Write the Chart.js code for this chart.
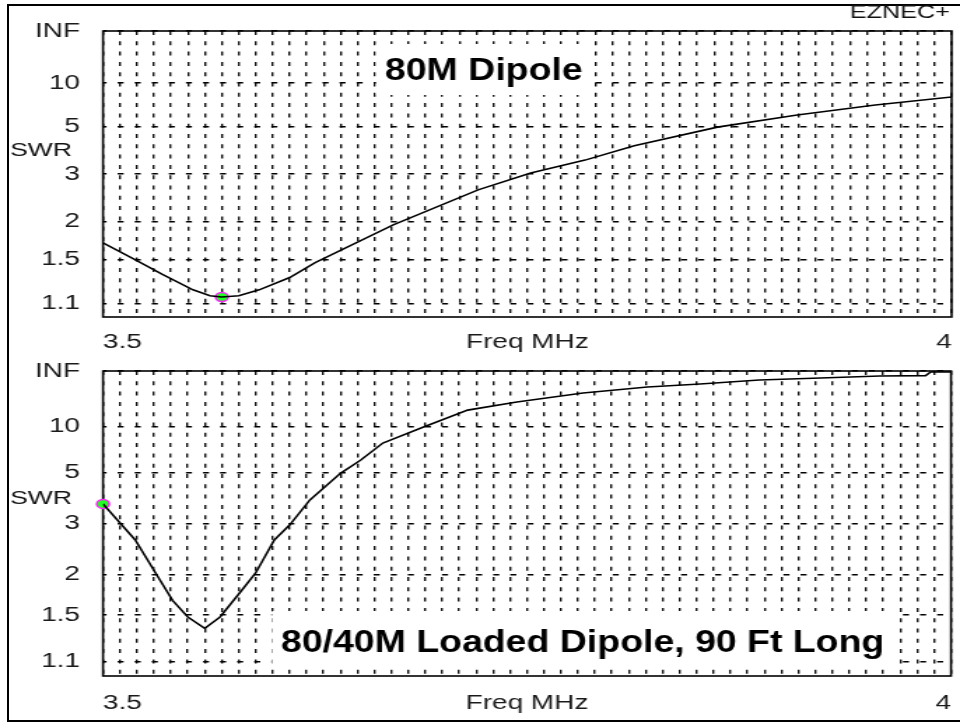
<!DOCTYPE html>
<html>
<head>
<meta charset="utf-8">
<script src="https://cdn.jsdelivr.net/npm/chart.js@4.4.1/dist/chart.umd.min.js"></script>
<style>
  html, body { margin: 0; padding: 0; background: #fff; }
  #page { position: relative; width: 960px; height: 723px; overflow: hidden; }
  #frame { position: absolute; left: 7px; top: 4px; width: 970px; height: 718px; border: 2px solid #000; box-sizing: border-box; }
  canvas { position: absolute; left: 0; }
</style>
</head>
<body>
<div id="page">
  <div id="frame"></div>
  <canvas id="topChart" width="686" height="360" style="top:0;width:960px;height:360px"></canvas>
  <canvas id="botChart" width="686" height="363" style="top:360px;width:960px;height:363px"></canvas>
</div>
<script>
// Change Label & Data Set Here
var topFreq = [3.500, 3.518, 3.535, 3.553, 3.563, 3.570, 3.580, 3.592, 3.610, 3.625, 3.671, 3.721, 3.752, 3.784, 3.813, 3.862, 3.909, 3.955, 4.000];
var topSwr  = [1.70, 1.51, 1.35, 1.21, 1.16, 1.15, 1.16, 1.21, 1.32, 1.47, 1.95, 2.60, 3.03, 3.43, 3.98, 4.95, 5.81, 6.73, 7.67];

var botFreq = [3.500, 3.519, 3.531, 3.541, 3.550, 3.560, 3.569, 3.581, 3.590, 3.601, 3.610, 3.622, 3.640, 3.652, 3.665, 3.689, 3.715, 3.744, 3.783, 3.821, 3.852, 3.887, 3.923, 3.958, 3.985, 3.988, 4.000];
var botSwr  = [3.59, 2.61, 2.02, 1.66, 1.48, 1.37, 1.48, 1.76, 2.02, 2.61, 2.96, 3.73, 4.96, 5.85, 7.47, 9.9, 14.6, 18.7, 26.7, 37, 46, 67, 86, 121, 132, 600, 600];

// marker points (freq, swr)
var topMarker = [3.570, 1.15];
var botMarker = [3.500, 3.59];

// y ticks are SWR values, x tick labels only at a few frequencies
var swrTicks = [1.1, 1.5, 2, 3, 5, 10, Infinity];
var swrTickLabels = ['1.1', '1.5', '2', '3', '5', '10', 'INF'];
var freqLabelAt = [3.5, 3.75, 4.0];
var freqLabelText = ['3.5', 'Freq MHz', '4'];

// the picture is stretched sideways, so the canvas is too
const S = 960 / 686;
const NOTE_STRETCH = 1.17;
const FONT = '"Liberation Sans", Arial, sans-serif';

/**
 * SWR -> reflection coefficient (EZNEC plots SWR on a rho scale)
 * @param {Number} swr
 * @returns rho
 */
function toRho(swr) {
    if (!isFinite(swr)) return 1;
    return (swr - 1) / (swr + 1);
}

/**
 * Frame, note box, SWR / EZNEC+ labels
 */
const panelDecor = {
    id: 'panelDecor',
    beforeDatasetsDraw(chart, args, opts) {
        const { ctx, chartArea } = chart;
        const { left, top, right, bottom } = chartArea;
        ctx.save();
        ctx.setLineDash([]);
        ctx.strokeStyle = '#000';
        ctx.lineWidth = 1.6;
        ctx.strokeRect(left, top, right - left, bottom - top);

        const n = opts.note;
        ctx.fillStyle = '#fff';
        ctx.fillRect(n.box[0] / S, n.box[1], (n.box[2] - n.box[0]) / S, n.box[3] - n.box[1]);
        ctx.translate(n.x / S, n.y);
        ctx.scale(NOTE_STRETCH / S, 1);
        ctx.fillStyle = '#000';
        ctx.font = 'bold 32px ' + FONT;
        ctx.textBaseline = 'alphabetic';
        ctx.textAlign = 'left';
        ctx.fillText(n.text, 0, 0);
        ctx.restore();
    },
    afterDraw(chart, args, opts) {
        const ctx = chart.ctx;
        ctx.save();
        ctx.fillStyle = '#111';
        ctx.textBaseline = 'middle';
        ctx.textAlign = 'left';
        ctx.font = '19px ' + FONT;
        ctx.fillText('SWR', 10 / S, opts.swrY);
        if (opts.corner) {
            ctx.textAlign = 'right';
            ctx.font = '18px ' + FONT;
            ctx.fillText(opts.corner, 950 / S, 13);
        }
        ctx.restore();
    }
};

/**
 * To Data Configuration
 */
function config(freq, swr, marker, p) {
    return {
        type: 'line',
        data: {
            datasets: [{
                data: freq.map((f, i) => ({ x: f, y: toRho(swr[i]) })),
                borderColor: '#000',
                borderWidth: 1.6,
                tension: 0,
                pointRadius: 0,
                fill: false,
            }, {
                data: [{ x: marker[0], y: toRho(marker[1]) }],
                showLine: false,
                pointRadius: 4.5,
                pointBackgroundColor: '#22ff22',
                pointBorderColor: '#ff22ff',
                pointBorderWidth: 1.5,
                clip: false,
            }]
        },
        options: {
            responsive: false,
            animation: false,
            layout: {
                padding: { top: p.padTop, right: p.padRight, left: 0, bottom: 0 }
            },
            plugins: {
                legend: { display: false },
                tooltip: { enabled: false },
                panelDecor: { note: p.note, swrY: p.swrY, corner: p.corner },
            },
            scales: {
                x: {
                    type: 'linear',
                    min: 3.5,
                    max: 4.0,
                    afterFit: (scale) => {
                        scale.height = p.xHeight;
                        scale.paddingLeft = 0;
                        scale.paddingRight = 0;
                    },
                    ticks: {
                        stepSize: 0.01,
                        autoSkip: false,
                        maxRotation: 0,
                        minRotation: 0,
                        align: 'inner',
                        padding: p.xPad,
                        color: '#1a1a1a',
                        font: { family: FONT, size: 20 },
                        callback: (value) => {
                            const k = freqLabelAt.findIndex(v => Math.abs(v - value) < 1e-6);
                            return k < 0 ? '' : freqLabelText[k];
                        }
                    },
                    grid: {
                        color: '#111',
                        lineWidth: 1.4,
                        drawTicks: false,
                    },
                    border: { display: false, dash: [4, 6.3] }
                },
                y: {
                    type: 'linear',
                    min: 0,
                    max: 1,
                    afterFit: (scale) => {
                        scale.width = 103 / S;
                        scale.paddingTop = 0;
                        scale.paddingBottom = 0;
                    },
                    afterBuildTicks: (scale) => {
                        scale.ticks = swrTicks.map(v => ({ value: toRho(v) }));
                    },
                    ticks: {
                        padding: 16.4,
                        color: '#1a1a1a',
                        font: { family: FONT, size: 20 },
                        callback: (value, index) => swrTickLabels[index]
                    },
                    grid: {
                        color: '#000',
                        lineWidth: 1.6,
                        drawTicks: false,
                    },
                    border: { display: false, dash: [4.3, 7.9], dashOffset: 2.15 }
                }
            }
        },
        plugins: [panelDecor]
    };
}

const topChart = new Chart(
    document.getElementById('topChart'),
    config(topFreq, topSwr, topMarker, {
        padTop: 31, padRight: 686 - 956 / S, xHeight: 43, xPad: 13, swrY: 151,
        corner: 'EZNEC+',
        note: { text: '80M Dipole', x: 385, y: 80, box: [376, 44, 592, 95] }
    })
);

const botChart = new Chart(
    document.getElementById('botChart'),
    config(botFreq, botSwr, botMarker, {
        padTop: 11, padRight: 686 - 951 / S, xHeight: 47, xPad: 15, swrY: 139,
        corner: null,
        note: { text: '80/40M Loaded Dipole, 90 Ft Long', x: 281, y: 292, box: [272, 251, 893, 309] }
    })
);
</script>
</body>
</html>
